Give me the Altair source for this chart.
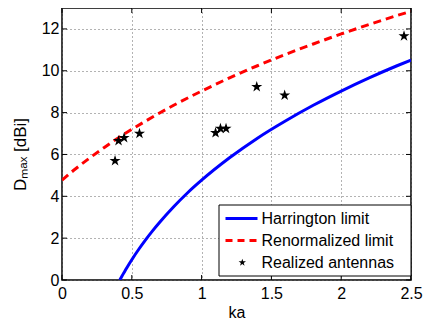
import altair as alt
import pandas as pd

# Harrington limit
ka_harr = [0.414, 0.42, 0.43, 0.45, 0.47, 0.5, 0.55, 0.6, 0.65, 0.7, 0.8, 0.9, 1.0, 1.2, 1.4, 1.6, 1.8, 2.0, 2.2, 2.4, 2.5]
d_harr = [0.0, 0.07, 0.19, 0.42, 0.65, 0.97, 1.47, 1.93, 2.36, 2.76, 3.50, 4.17, 4.77, 5.84, 6.78, 7.60, 8.35, 9.03, 9.66, 10.24, 10.51]
# Renormalized limit
ka_renorm = [0.0, 0.1, 0.2, 0.3, 0.4, 0.5, 0.6, 0.8, 1.0, 1.2, 1.4, 1.6, 1.8, 2.0, 2.2, 2.4, 2.5]
d_renorm = [4.77, 5.33, 5.84, 6.32, 6.78, 7.20, 7.60, 8.35, 9.03, 9.66, 10.24, 10.78, 11.28, 11.76, 12.21, 12.64, 12.84]
# Realized antennas
ka_ant = [0.38, 0.405, 0.445, 0.555, 1.10, 1.135, 1.175, 1.395, 1.595, 2.45]
d_ant = [5.7, 6.65, 6.8, 7.0, 7.03, 7.24, 7.24, 9.23, 8.83, 11.66]

x_ticks = [0, 0.5, 1, 1.5, 2, 2.5]
y_ticks = [0, 2, 4, 6, 8, 10, 12]
legend_labels = ["Harrington limit", "Renormalized limit", "Realized antennas"]
x_title = "ka"
y_title = "D\u2098\u2090\u2093 [dBi]"

W, H = 349, 272
PAD_L = 54
FONT = "Liberation Sans"
STAR = "M0,-1L0.225,-0.309L0.951,-0.309L0.363,0.118L0.588,0.809L0,0.382L-0.588,0.809L-0.363,0.118L-0.951,-0.309L-0.225,-0.309Z"

harr = pd.DataFrame({"ka": ka_harr, "D": d_harr})
renorm = pd.DataFrame({"ka": ka_renorm, "D": d_renorm})
ant = pd.DataFrame({"ka": ka_ant, "D": d_ant})
xt = pd.DataFrame({"v": x_ticks})
yt = pd.DataFrame({"v": y_ticks})
one = pd.DataFrame({"k": [0]})

xscale = alt.Scale(domain=[0, 2.5], nice=False)
yscale = alt.Scale(domain=[0, 13], nice=False)

xaxis = alt.Axis(values=x_ticks, title=x_title, format="~g", grid=True, gridDash=[1, 3], gridColor="#666",
                 gridWidth=1, tickSize=0, domain=False, labelFont=FONT, labelFontSize=16,
                 labelColor="black", labelPadding=5, titleFont=FONT, titleFontSize=16,
                 titleFontWeight="normal", titleColor="black", titlePadding=3, labelFlush=False)
yaxis = alt.Axis(values=y_ticks, title=y_title, format="~g", grid=True, gridDash=[1, 3], gridColor="#666",
                 gridWidth=1, tickSize=0, domain=False, labelFont=FONT, labelFontSize=16,
                 labelColor="black", labelPadding=3, labelFlush=False,
                 titleFont=FONT, titleFontSize=17, titleFontWeight="normal", titleColor="black",
                 titleAngle=270, titleAlign="center", titleBaseline="middle",
                 titleX=-42, titleY=146)

X = lambda f: alt.X(f, scale=xscale, axis=xaxis)
Y = lambda f: alt.Y(f, scale=yscale, axis=yaxis)

harr_line = alt.Chart(harr).mark_line(color="#0000ff", strokeWidth=3, interpolate="monotone", clip=True).encode(
    x=X("ka:Q"), y=Y("D:Q"))
renorm_line = alt.Chart(renorm).mark_line(color="#ff0000", strokeWidth=3, strokeDash=[8, 5],
                                          interpolate="monotone", clip=True).encode(
    x=X("ka:Q"), y=Y("D:Q"))
stars = alt.Chart(ant).mark_point(shape=STAR, filled=True, color="black", size=135, opacity=1).encode(
    x=X("ka:Q"), y=Y("D:Q"))

tick_style = dict(color="black", strokeWidth=1)
xt_bottom = alt.Chart(xt).mark_rule(**tick_style).encode(
    x=X("v:Q"), y=alt.value(H), y2=alt.value(H - 5))
xt_top = alt.Chart(xt).mark_rule(**tick_style).encode(
    x=X("v:Q"), y=alt.value(0), y2=alt.value(5))
yt_left = alt.Chart(yt).mark_rule(**tick_style).encode(
    y=Y("v:Q"), x=alt.value(0), x2=alt.value(5))
yt_right = alt.Chart(yt).mark_rule(**tick_style).encode(
    y=Y("v:Q"), x=alt.value(W), x2=alt.value(W - 5))

# Legend box (anchored to right edge of plot)
lx0, ly0, lx1, ly1 = W - 192, 197, W, 268
leg_box = alt.Chart(one).mark_rect(fill="white", stroke="black", strokeWidth=1).encode(
    x=alt.value(lx0), x2=alt.value(lx1), y=alt.value(ly0), y2=alt.value(ly1))
row_y = [210.5, 232.5, 254.5]
sx0 = lx0 + 6.5
leg_blue = alt.Chart(one).mark_rule(color="#0000ff", strokeWidth=3).encode(
    x=alt.value(sx0), x2=alt.value(sx0 + 32), y=alt.value(row_y[0]))
leg_red = alt.Chart(one).mark_rule(color="#ff0000", strokeWidth=3, strokeDash=[7, 5]).encode(
    x=alt.value(sx0), x2=alt.value(sx0 + 32), y=alt.value(row_y[1]))
leg_star = alt.Chart(one).mark_point(shape=STAR, filled=True, color="black", size=60, opacity=1).encode(
    x=alt.value(sx0 + 16.8), y=alt.value(row_y[2]))
leg_texts = [
    alt.Chart(one).mark_text(align="left", baseline="middle", font=FONT, fontSize=16,
                             color="black").encode(x=alt.value(lx0 + 42.5), y=alt.value(yy), text=alt.value(lbl))
    for lbl, yy in zip(legend_labels, row_y)
]

chart = alt.layer(
    harr_line, renorm_line, stars,
    xt_bottom, xt_top, yt_left, yt_right,
    leg_box, leg_blue, leg_red, leg_star, *leg_texts,
).properties(
    width=W, height=H,
    autosize=alt.AutoSizeParams(type="none"),
    padding={"left": PAD_L, "top": 0, "right": 415 - PAD_L - W, "bottom": 48},
    background="white",
).configure_view(stroke="black", strokeWidth=1.5)

chart.save("out.html", embed_options={"renderer": "svg", "actions": False})
